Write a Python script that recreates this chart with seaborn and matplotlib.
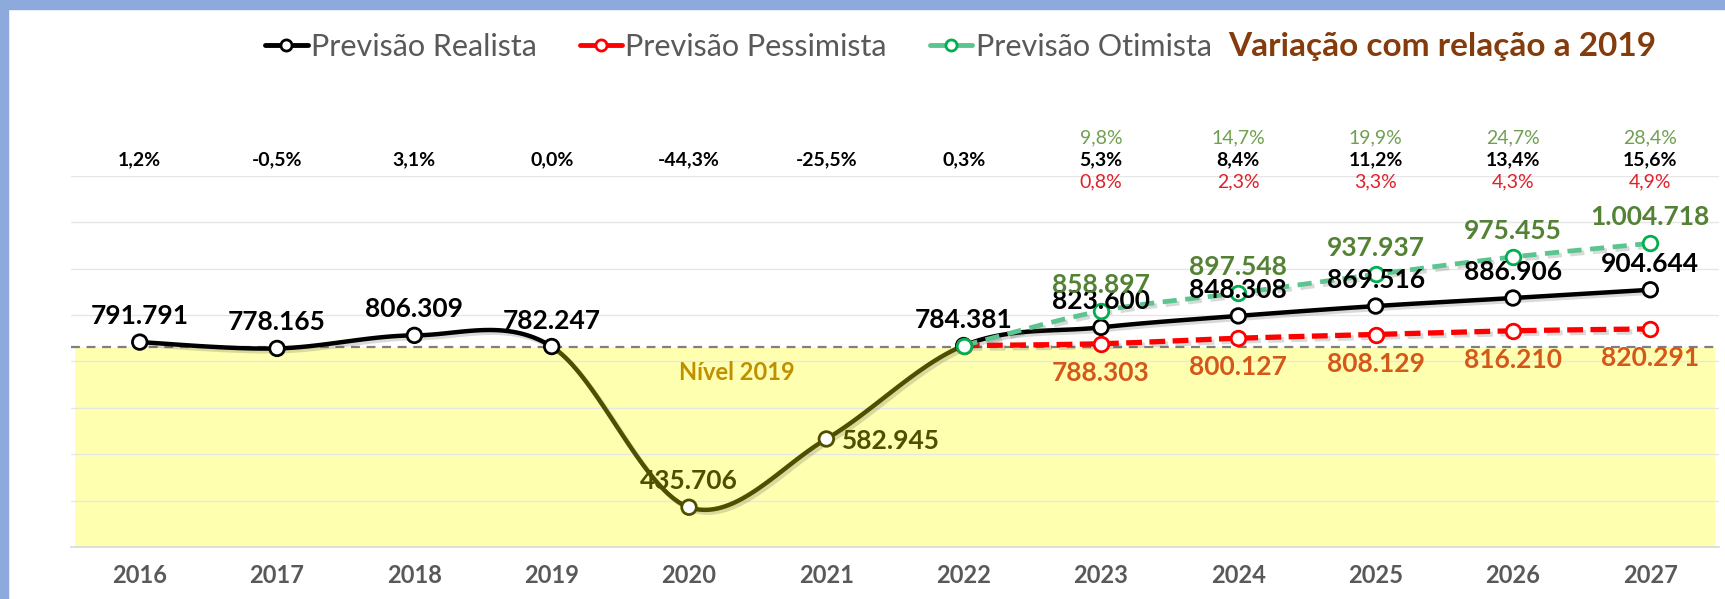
import numpy as np
import pandas as pd
import matplotlib
matplotlib.use("Agg")
import matplotlib.pyplot as plt
import matplotlib.patheffects as pe
import matplotlib.transforms as mtrans
from matplotlib.lines import Line2D
from matplotlib.patches import Rectangle
import seaborn as sns

# ---------------- data ----------------
years = [2016, 2017, 2018, 2019, 2020, 2021, 2022, 2023, 2024, 2025, 2026, 2027]
realista = [791791, 778165, 806309, 782247, 435706, 582945, 784381,
            823600, 848308, 869516, 886906, 904644]
proj_years = [2022, 2023, 2024, 2025, 2026, 2027]
pessimista = [784381, 788303, 800127, 808129, 816210, 820291]
otimista = [784381, 858897, 897548, 937937, 975455, 1004718]
var_years = [2023, 2024, 2025, 2026, 2027]
var_realista = [1.2, -0.5, 3.1, 0.0, -44.3, -25.5, 0.3, 5.3, 8.4, 11.2, 13.4, 15.6]
var_otimista = [9.8, 14.7, 19.9, 24.7, 28.4]
var_pessimista = [0.8, 2.3, 3.3, 4.3, 4.9]
nivel_2019 = 782247
legend_labels = ["Previsão Realista", "Previsão Pessimista", "Previsão Otimista"]
title_text = "Variação com relação a 2019"
nivel_text = "Nível 2019"

# ---------------- style ----------------
sns.set_theme(style="white")
FONT = ["Lato", "DejaVu Sans"]
plt.rcParams["font.family"] = FONT

BLACK = "#000000"
OLIVE = "#4F4F00"
RED = "#FF0000"
GREEN_LINE = "#5CC48E"
GREEN_EDGE = "#00B050"
GREEN_TXT = "#548235"
GREEN_PCT = "#6FA050"
ORANGE_TXT = "#D4581A"
RED_PCT = "#E0202A"
GREY_TXT = "#595959"


def fmt_num(v):
    return f"{v:,}".replace(",", ".")


def fmt_pct(v):
    return f"{v:.1f}%".replace(".", ",")


def smooth_segments(xs, ys, n=40):
    P = np.column_stack([xs, ys]).astype(float)
    segs = []
    for i in range(len(P) - 1):
        p0 = P[i - 1] if i > 0 else P[i]
        p1, p2 = P[i], P[i + 1]
        p3 = P[i + 2] if i + 2 < len(P) else P[i + 1]
        b1 = p1 + (p2 - p0) / 6.0
        b2 = p2 - (p3 - p1) / 6.0
        t = np.linspace(0, 1, n)[:, None]
        seg = ((1 - t) ** 3) * p1 + 3 * ((1 - t) ** 2) * t * b1 + 3 * (1 - t) * t ** 2 * b2 + t ** 3 * p2
        segs.append(seg)
    return segs


xpos = {y: i for i, y in enumerate(years)}
df_real = pd.DataFrame({"x": [xpos[y] for y in years], "v": realista, "year": years})
df_pess = pd.DataFrame({"x": [xpos[y] for y in proj_years], "v": pessimista})
df_otim = pd.DataFrame({"x": [xpos[y] for y in proj_years], "v": otimista})

fig = plt.figure(figsize=(17.25, 5.99), dpi=100)
fig.patch.set_facecolor("white")
ax = fig.add_axes([0.0412, 0.0868, 0.9553, 0.6194])
ax.set_facecolor("white")

ax.set_xlim(-0.5, len(years) - 0.5)
ax.set_ylim(350000, 1150000)
ax.set_yticks(np.arange(350000, 1150001, 100000))
ax.yaxis.grid(True, color="#E6E6E6", lw=1.0)
ax.set_axisbelow(True)
ax.tick_params(axis="y", left=False, labelleft=False)
for s in ["left", "right", "top"]:
    ax.spines[s].set_visible(False)
ax.spines["bottom"].set_color("#D9D9D9")
ax.spines["bottom"].set_linewidth(1.2)

ax.set_xticks(range(len(years)))
ax.set_xticklabels([str(y) for y in years], fontsize=17, fontweight="bold", color=GREY_TXT)
ax.set_xticks(np.arange(-0.5, len(years), 1.0), minor=True)
ax.tick_params(axis="x", which="major", length=0, pad=12)
ax.tick_params(axis="x", which="minor", length=8, color="#D9D9D9", width=1.2)

# yellow band below 2019 level
ax.fill_between([-0.47, len(years) - 0.53], 350000, nivel_2019, color="#FFFFB0", zorder=0.5, lw=0)
ax.axhline(nivel_2019, color="#7F7F7F", ls=(0, (4, 3)), lw=1.6, zorder=1)

shadow = [pe.SimpleLineShadow(offset=(2, -2), alpha=0.22, shadow_color="#555555"), pe.Normal()]

# realista smoothed line (olive for 2019-2022 segment)
segs = smooth_segments(df_real["x"], df_real["v"])
for i, seg in enumerate(segs):
    col = OLIVE if 3 <= i <= 5 else BLACK
    ax.plot(seg[:, 0], seg[:, 1], color=col, lw=3.2, solid_capstyle="round", zorder=3, path_effects=shadow)

# pessimista
pts = np.vstack(smooth_segments(df_pess["x"], df_pess["v"]))
ax.plot(pts[:, 0], pts[:, 1], color=RED, lw=3.8, ls=(0, (3, 1.4)), zorder=4, path_effects=shadow)
# otimista
pts = np.vstack(smooth_segments(df_otim["x"], df_otim["v"]))
ax.plot(pts[:, 0], pts[:, 1], color=GREEN_LINE, lw=3.4, ls=(0, (3, 1.8)), zorder=4, path_effects=shadow)

# markers
edge_cols = [OLIVE if y in (2020, 2021) else BLACK for y in years]
sns.scatterplot(data=df_real, x="x", y="v", ax=ax, s=110, color="white", edgecolor=edge_cols,
                linewidth=2.0, zorder=6, legend=False)
sns.scatterplot(data=df_pess, x="x", y="v", ax=ax, s=110, color="white", edgecolor=RED,
                linewidth=2.0, zorder=6, legend=False)
sns.scatterplot(data=df_otim, x="x", y="v", ax=ax, s=110, color="white", edgecolor=GREEN_EDGE,
                linewidth=2.0, zorder=7, legend=False)
ax.set_xlabel("")
ax.set_ylabel("")

# value labels
PX = 72.0 / fig.dpi  # points per pixel
for x, v, y in zip(df_real["x"], df_real["v"], df_real["year"]):
    if y == 2021:
        ax.annotate(fmt_num(v), (x, v), xytext=(16 * PX, -2 * PX), textcoords="offset points",
                    ha="left", va="center", fontsize=19, fontweight="bold", color=OLIVE, zorder=10)
    else:
        col = OLIVE if y == 2020 else BLACK
        ax.annotate(fmt_num(v), (x, v), xytext=(0, 26 * PX), textcoords="offset points",
                    ha="center", va="center", fontsize=19, fontweight="bold", color=col, zorder=10)
for x, v in zip(df_otim["x"][1:], df_otim["v"][1:]):
    ax.annotate(fmt_num(v), (x, v), xytext=(0, 26 * PX), textcoords="offset points",
                ha="center", va="center", fontsize=19, fontweight="bold", color=GREEN_TXT, zorder=10)
for x, v in zip(df_pess["x"][1:], df_pess["v"][1:]):
    ax.annotate(fmt_num(v), (x, v), xytext=(0, -29 * PX), textcoords="offset points",
                ha="center", va="center", fontsize=19, fontweight="bold", color=ORANGE_TXT, zorder=10)

# Nivel 2019
ax.annotate(nivel_text, (xpos[2020] + 0.35, nivel_2019), xytext=(0, -26 * PX), textcoords="offset points",
            ha="center", va="center", fontsize=17, fontweight="bold", color="#BF9000", zorder=10)

# percent rows above the plot
trans = mtrans.blended_transform_factory(ax.transData, ax.transAxes)
for y, p in zip(years, var_realista):
    ax.text(xpos[y], 1.045, fmt_pct(p), transform=trans, ha="center", va="center",
            fontsize=14, fontweight="bold", color=BLACK)
for y, p in zip(var_years, var_otimista):
    ax.text(xpos[y], 1.102, fmt_pct(p), transform=trans, ha="center", va="center",
            fontsize=14, color=GREEN_PCT)
for y, p in zip(var_years, var_pessimista):
    ax.text(xpos[y], 0.983, fmt_pct(p), transform=trans, ha="center", va="center",
            fontsize=14, color=RED_PCT)

# legend
handles = [
    Line2D([], [], color=BLACK, lw=3.5, marker="o", ms=8, mfc="white", mec=BLACK, mew=2),
    Line2D([], [], color=RED, lw=3.5, marker="o", ms=8, mfc="white", mec=RED, mew=2),
    Line2D([], [], color=GREEN_LINE, lw=3.5, marker="o", ms=8, mfc="white", mec=GREEN_EDGE, mew=2),
]
fig.legend(handles, legend_labels, loc="center", bbox_to_anchor=(0.428, 0.922), ncol=3,
           frameon=False, fontsize=22, handlelength=1.4, handletextpad=0.1, columnspacing=1.4,
           labelcolor=GREY_TXT)

fig.text(0.836, 0.922, title_text, ha="center", va="center", fontsize=24, fontweight="bold",
         color="#843C0C")

# light blue frame (left and top)
fig.patches.append(Rectangle((0, 0), 8 / 1725, 1, transform=fig.transFigure, color="#8EA9DB", zorder=-1))
fig.patches.append(Rectangle((0, 1 - 9 / 599), 1, 9 / 599, transform=fig.transFigure, color="#8EA9DB", zorder=-1))

fig.savefig("out.png", dpi=100, facecolor="white")
